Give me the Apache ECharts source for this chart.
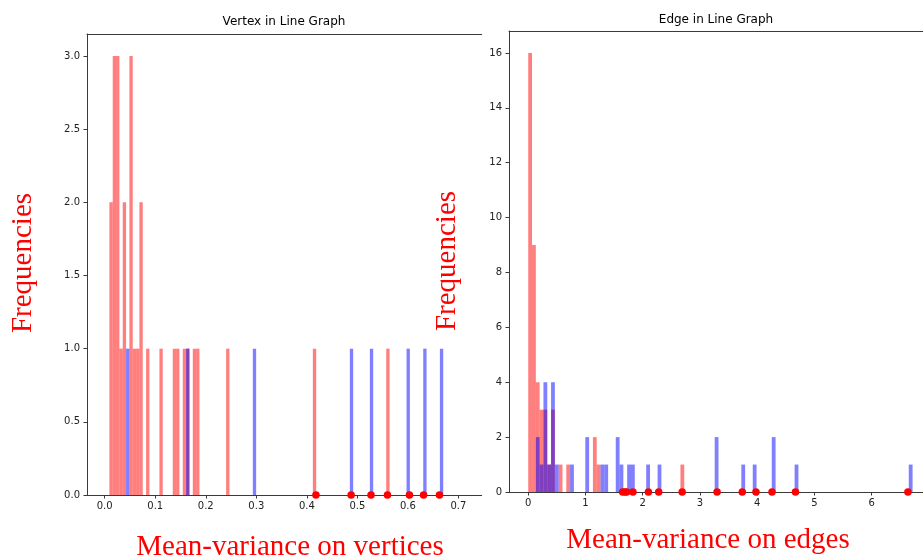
<!DOCTYPE html>
<html lang="en">
<head>
<meta charset="UTF-8">
<title>Vertex / Edge in Line Graph</title>
<script src="https://cdn.jsdelivr.net/npm/echarts@6/dist/echarts.min.js"></script>
<style>
html, body { margin: 0; padding: 0; background: #fff; }
#main { width: 923px; height: 559px; }
</style>
</head>
<body>
<div id="main"></div>
<script>
// ---- left panel: vertex in line graph (bin left edge + count) ----
var vertexBin = 0.0066;
var vertexRedEdges = [0.0093, 0.0159, 0.0225, 0.0291, 0.0357, 0.0489, 0.0555, 0.0621, 0.0687, 0.0819,
                      0.1083, 0.1347, 0.1413, 0.1545, 0.1611, 0.1743, 0.1809, 0.2403, 0.4119, 0.5571];
var vertexRedCounts = [2, 3, 3, 1, 2, 3, 1, 1, 2, 1,
                       1, 1, 1, 1, 1, 1, 1, 1, 1, 1];
var vertexBlueEdges = [0.0423, 0.1611, 0.2931, 0.4851, 0.5247, 0.5973, 0.6303, 0.6633];
var vertexBlueCounts = [1, 1, 1, 1, 1, 1, 1, 1];
var vertexDots = [0.418, 0.4876, 0.527, 0.5595, 0.603, 0.631, 0.6624];
var vertexXTicks = [0, 0.1, 0.2, 0.3, 0.4, 0.5, 0.6, 0.7];
var vertexYTicks = [0, 0.5, 1, 1.5, 2, 2.5, 3];

// ---- right panel: edge in line graph ----
var edgeBin = 0.0665;
var edgeRedEdges = [0, 0.0665, 0.133, 0.1995, 0.266, 0.3325, 0.399, 0.532, 0.665, 1.1305, 1.197, 2.66];
var edgeRedCounts = [16, 9, 4, 3, 3, 1, 3, 1, 1, 2, 1, 1];
var edgeBlueEdges = [0.133, 0.1995, 0.266, 0.3325, 0.399, 0.4655, 0.7315, 0.9975, 1.2635, 1.33, 1.5295,
                     1.596, 1.729, 1.7955, 2.0615, 2.261, 3.2585, 3.724, 3.9235, 4.256, 4.655, 6.65];
var edgeBlueCounts = [2, 1, 4, 1, 4, 1, 1, 2, 1, 1, 2,
                      1, 1, 1, 1, 1, 2, 1, 1, 2, 1, 1];
var edgeDots = [1.65, 1.69, 1.72, 1.83, 2.10, 2.28, 2.69, 3.30, 3.74, 3.98, 4.26, 4.67, 6.635];
var edgeXTicks = [0, 1, 2, 3, 4, 5, 6];
var edgeYTicks = [0, 2, 4, 6, 8, 10, 12, 14, 16];

var RED = 'rgba(255,0,0,0.5)';
var BLUE = 'rgba(0,0,255,0.5)';
var axisColor = '#3a3a3a';
var tickFont = { fontFamily: 'DejaVu Sans', fontSize: 10, color: '#222' };

var myChart = echarts.init(document.getElementById('main'), null, { renderer: 'canvas' });

function histSeries(edges, counts, bin, color, idx) {
    return {
        type: 'custom',
        xAxisIndex: idx,
        yAxisIndex: idx,
        silent: true,
        data: edges.map(function (e, i) { return [e, counts[i]]; }),
        encode: { x: 0, y: 1 },
        renderItem: function (params, api) {
            var a = api.coord([api.value(0), 0]);
            var b = api.coord([api.value(0) + bin, api.value(1)]);
            return {
                type: 'rect',
                shape: { x: a[0], y: b[1], width: b[0] - a[0], height: a[1] - b[1] },
                style: { fill: color }
            };
        }
    };
}

function dotSeries(xs, idx) {
    return {
        type: 'scatter',
        xAxisIndex: idx,
        yAxisIndex: idx,
        silent: true,
        clip: false,
        z: 10,
        symbolSize: 7.5,
        itemStyle: { color: '#ff0000', opacity: 1 },
        data: xs.map(function (x) { return [x, 0]; })
    };
}

function bottomAxis(idx, min, max, ticks, digits) {
    return {
        type: 'value', gridIndex: idx, position: 'bottom', min: min, max: max,
        splitLine: { show: false },
        axisLine: { show: true, onZero: false, lineStyle: { color: axisColor, width: 1 } },
        axisTick: { show: true, length: 3.5, customValues: ticks, lineStyle: { color: axisColor } },
        axisLabel: Object.assign({ margin: 6, customValues: ticks, formatter: function (v) { return v.toFixed(digits); } }, tickFont)
    };
}

function topAxis(idx, min, max) {
    return {
        type: 'value', gridIndex: idx, position: 'top', min: min, max: max,
        splitLine: { show: false },
        axisLine: { show: true, onZero: false, lineStyle: { color: axisColor, width: 1 } },
        axisTick: { show: false },
        axisLabel: { show: false }
    };
}

function leftAxis(idx, max, ticks, digits) {
    return {
        type: 'value', gridIndex: idx, min: 0, max: max,
        splitLine: { show: false },
        axisLine: { show: true, onZero: false, lineStyle: { color: axisColor, width: 1 } },
        axisTick: { show: true, length: 3.5, customValues: ticks, lineStyle: { color: axisColor } },
        axisLabel: Object.assign({ margin: 7, customValues: ticks, formatter: function (v) { return v.toFixed(digits); } }, tickFont)
    };
}

var bigFont = '29px "Liberation Serif", "Times New Roman", serif';
function bigText(text, x, y, rot) {
    return {
        type: 'text', x: x, y: y, rotation: rot || 0,
        style: { text: text, font: bigFont, fill: '#ff0000', align: 'center', verticalAlign: 'middle',
                 textAlign: 'center', textVerticalAlign: 'middle' }
    };
}
function titleText(text, x, y) {
    return {
        type: 'text', x: x, y: y,
        style: { text: text, font: '12px "DejaVu Sans"', fill: '#000', align: 'center', verticalAlign: 'middle',
                 textAlign: 'center', textVerticalAlign: 'middle' }
    };
}

option = {
    animation: false,
    backgroundColor: '#fff',
    grid: [
        { left: 87, top: 34, width: 394.7, height: 461, outerBoundsMode: 'none' },
        { left: 509, top: 31, width: 423, height: 461, outerBoundsMode: 'none' }
    ],
    xAxis: [
        bottomAxis(0, -0.035, 0.746, vertexXTicks, 1),
        bottomAxis(1, -0.336, 7.056, edgeXTicks, 0),
        topAxis(0, -0.035, 0.746),
        topAxis(1, -0.336, 7.056)
    ],
    yAxis: [
        leftAxis(0, 3.15, vertexYTicks, 1),
        leftAxis(1, 16.8, edgeYTicks, 0)
    ],
    series: [
        histSeries(vertexRedEdges, vertexRedCounts, vertexBin, RED, 0),
        histSeries(vertexBlueEdges, vertexBlueCounts, vertexBin, BLUE, 0),
        dotSeries(vertexDots, 0),
        histSeries(edgeRedEdges, edgeRedCounts, edgeBin, RED, 1),
        histSeries(edgeBlueEdges, edgeBlueCounts, edgeBin, BLUE, 1),
        dotSeries(edgeDots, 1)
    ],
    graphic: [
        titleText('Vertex in Line Graph', 284, 22),
        titleText('Edge in Line Graph', 716, 20),
        bigText('Frequencies', 23, 263, Math.PI / 2),
        bigText('Frequencies', 447, 261, Math.PI / 2),
        bigText('Mean-variance on vertices', 290, 547),
        bigText('Mean-variance on edges', 708, 540)
    ]
};

myChart.setOption(option);
</script>
</body>
</html>
